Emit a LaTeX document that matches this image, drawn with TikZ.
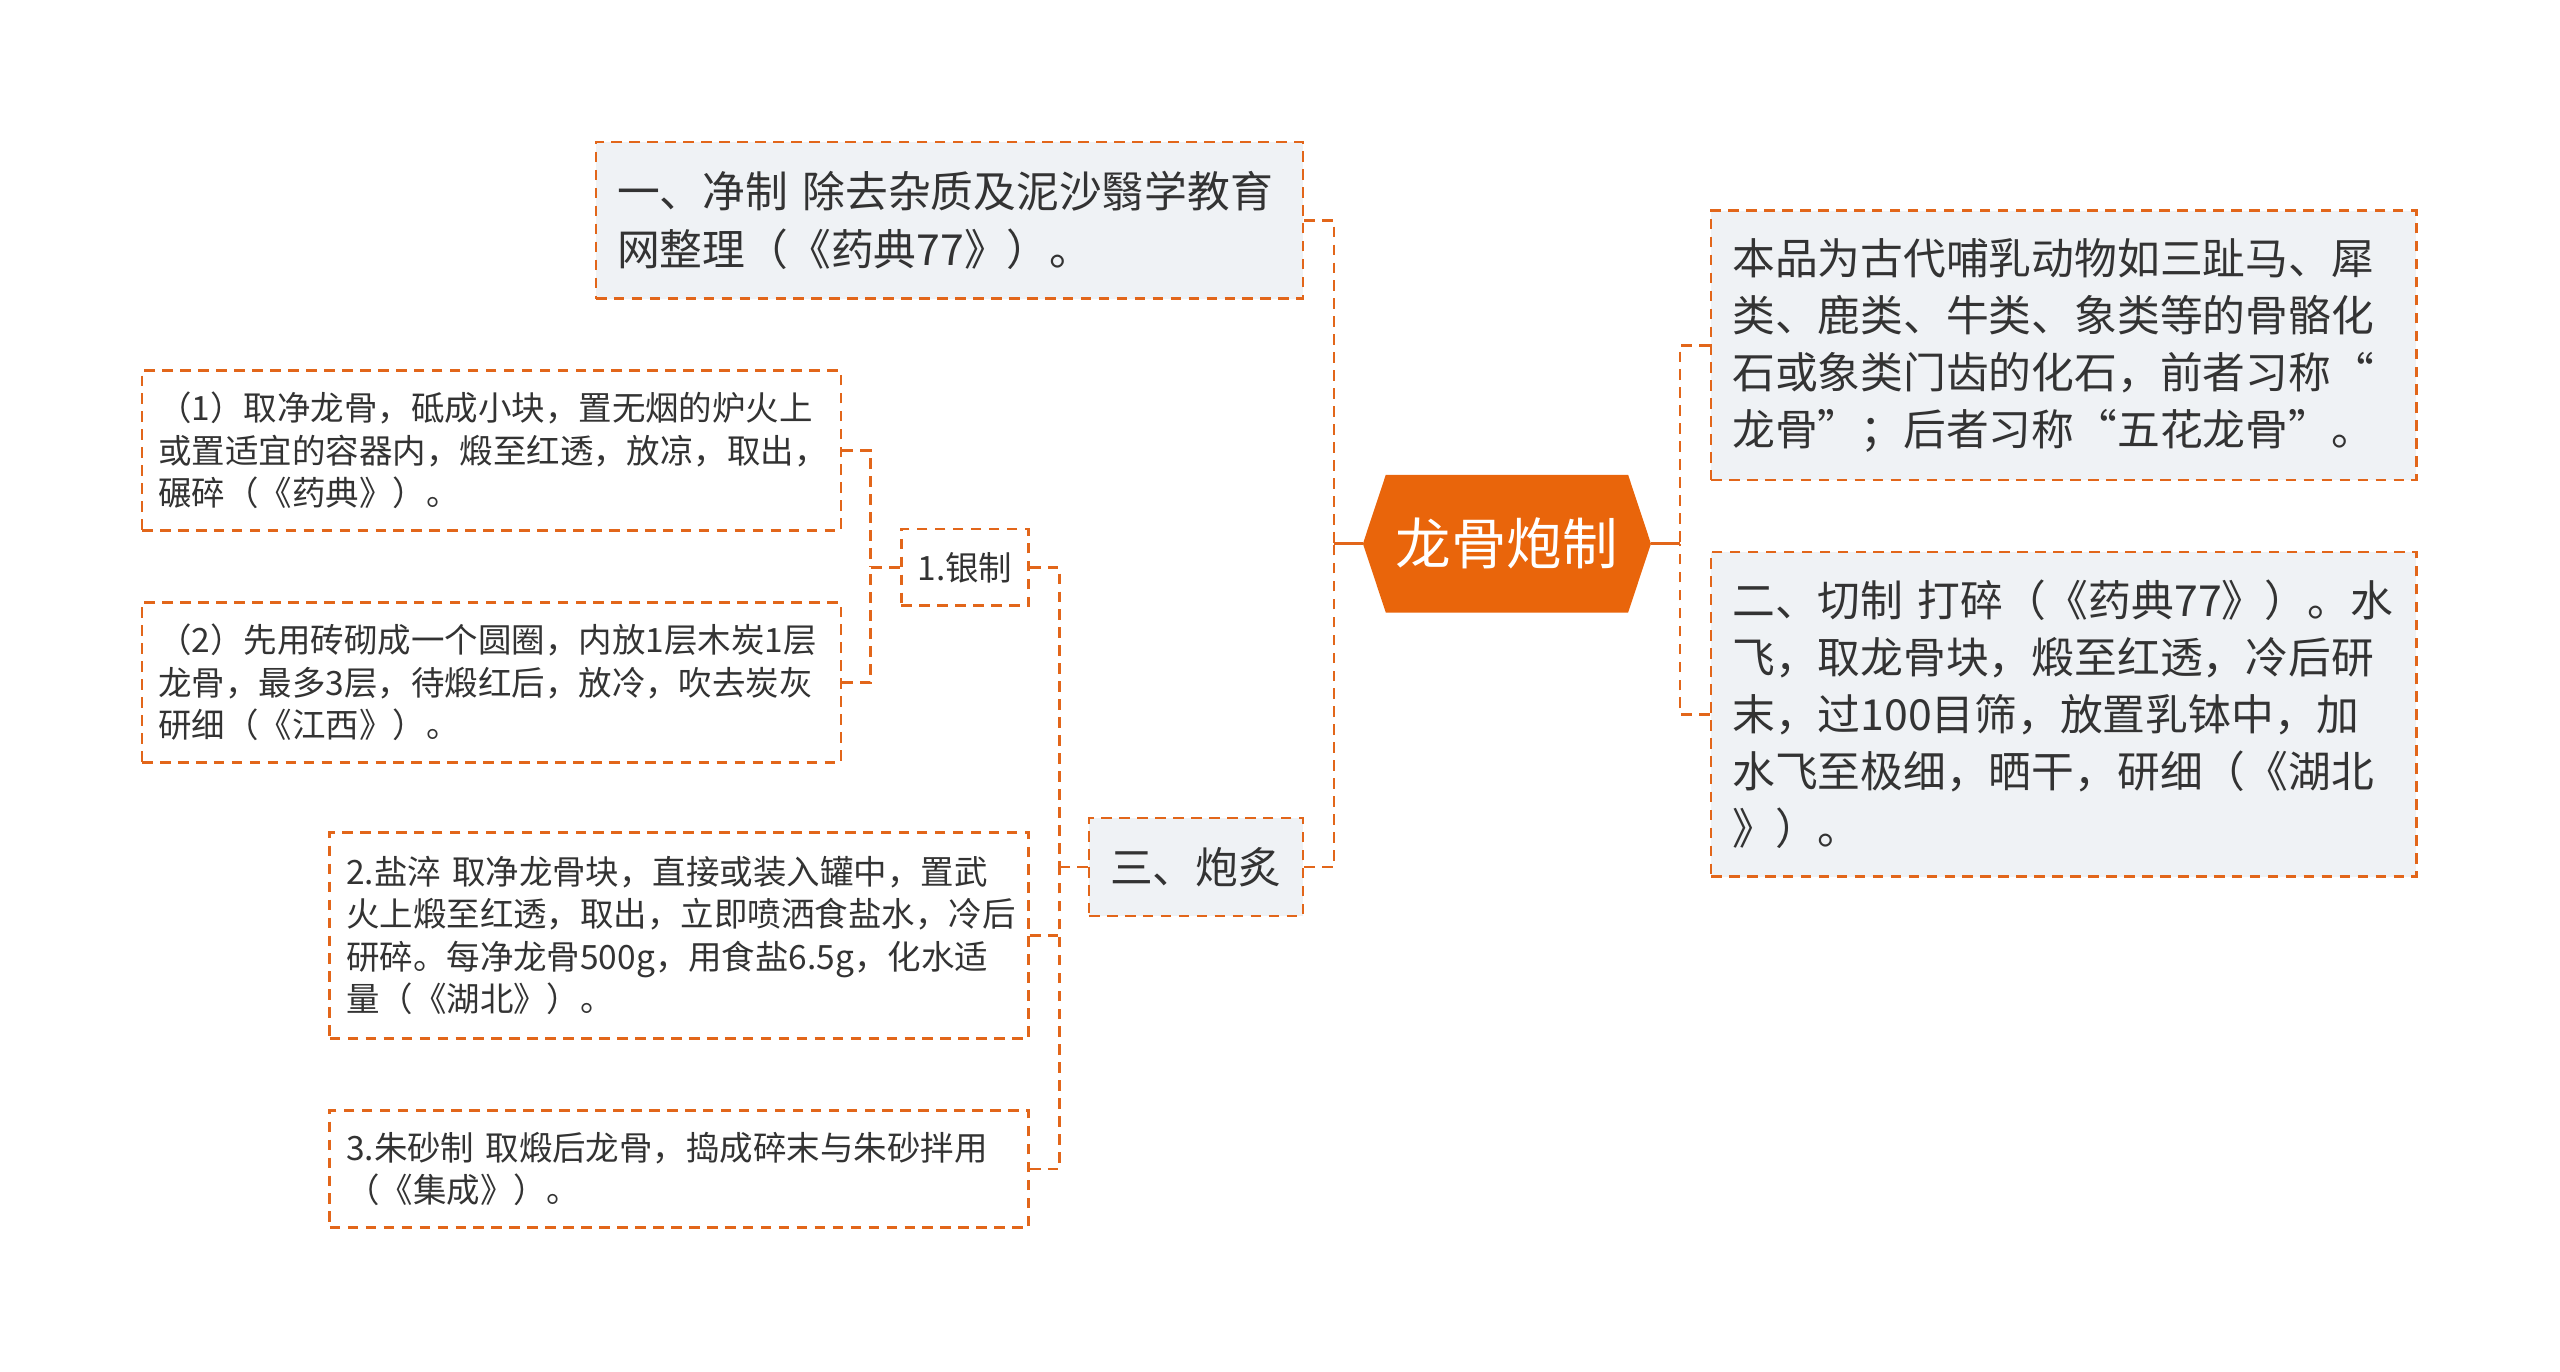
\documentclass[tikz,border=0pt]{standalone}
\usepackage{fontspec}
\setmainfont{Noto Sans CJK SC}
\usetikzlibrary{backgrounds}
\definecolor{lineor}{HTML}{E2661A}
\definecolor{hexor}{HTML}{E9650B}
\definecolor{boxgray}{HTML}{EFF2F5}
\definecolor{txt}{HTML}{333333}
\newcommand\myBigFont{\fontsize{26.2}{35}\selectfont}
\newcommand\mySmallFont{\fontsize{20.5}{26}\selectfont}
\newcommand\myCenterFont{\fontsize{34}{40}\selectfont}
\tikzset{
  conn/.style={draw=lineor, line width=1.6pt, dash pattern=on 6.5pt off 4.5pt},
  stub/.style={draw=lineor, line width=2pt},
  bigbox/.style={draw=lineor, fill=boxgray, line width=1.6pt, dash pattern=on 6.5pt off 4.5pt,
    inner xsep=13pt, inner ysep=0pt, align=left, text=txt, font=\myBigFont},
  smallbox/.style={draw=lineor, fill=white, line width=1.6pt, dash pattern=on 6.5pt off 4.5pt,
    inner xsep=10pt, inner ysep=0pt, align=left, text=txt, font=\mySmallFont},
}
\begin{document}
\begin{tikzpicture}[x=1pt,y=-1pt]
\useasboundingbox (0,0) rectangle (1568,840);

% centre
\node (c) at (923,333) [minimum width=176pt, minimum height=84pt, inner sep=0pt,
  text=white, font=\myCenterFont] {龙骨炮制};
\begin{scope}[on background layer]
\fill[white] (0,0) rectangle (1568,840);
\fill[hexor] (c.west) -- ([xshift=14pt]c.north west) -- ([xshift=-14pt]c.north east)
  -- (c.east) -- ([xshift=-14pt]c.south east) -- ([xshift=14pt]c.south west) -- cycle;
\end{scope}

% boxes
\node (b1) at (581.5,135) [bigbox, minimum width=433pt, minimum height=96pt, text width=407pt]
  {一、净制 除去杂质及泥沙翳学教育\\网整理（《药典77》）。};
\node (bA) at (1264,211.5) [bigbox, minimum width=432pt, minimum height=165pt, text width=406pt]
  {本品为古代哺乳动物如三趾马、犀\\类、鹿类、牛类、象类等的骨骼化\\石或象类门齿的化石，前者习称“\\龙骨”；后者习称“五花龙骨”。};
\node (b2) at (1264,437.5) [bigbox, minimum width=432pt, minimum height=199pt, text width=406pt]
  {二、切制 打碎（《药典77》）。水\\飞，取龙骨块，煅至红透，冷后研\\末，过100目筛，放置乳钵中，加\\水飞至极细，晒干，研细（《湖北\\》）。};
\node (b3) at (732.5,531) [bigbox, minimum width=131pt, minimum height=60pt, text width=105pt]
  {三、炮炙};

\node (s1) at (301,276) [smallbox, minimum width=428pt, minimum height=98pt, text width=408pt]
  {（1）取净龙骨，砥成小块，置无烟的炉火上\\或置适宜的容器内，煅至红透，放凉，取出，\\碾碎（《药典》）。};
\node (s2) at (301,418) [smallbox, minimum width=428pt, minimum height=98pt, text width=408pt]
  {（2）先用砖砌成一个圆圈，内放1层木炭1层\\龙骨，最多3层，待煅红后，放冷，吹去炭灰\\研细（《江西》）。};
\node (y1) at (591,347.5) [smallbox, minimum width=78pt, minimum height=47pt, text width=58pt]
  {1.银制};
\node (s3) at (416,573) [smallbox, minimum width=428pt, minimum height=126pt, text width=408pt]
  {2.盐淬 取净龙骨块，直接或装入罐中，置武\\火上煅至红透，取出，立即喷洒食盐水，冷后\\研碎。每净龙骨500g，用食盐6.5g，化水适\\量（《湖北》）。};
\node (s4) at (416,716) [smallbox, minimum width=428pt, minimum height=72pt, text width=408pt]
  {3.朱砂制 取煅后龙骨，捣成碎末与朱砂拌用\\（《集成》）。};

% junctions
\coordinate (jL) at (817,333);
\coordinate (jR) at (1029,333);
\coordinate (j3) at (649,531);
\coordinate (j1) at (533,347.5);

% connectors
\draw[stub] (c.west) -- (jL);
\draw[conn] (b1.east) -| (jL);
\draw[conn] (b3.east) -| (jL);
\draw[stub] (c.east) -- (jR);
\draw[conn] (bA.west) -| (jR);
\draw[conn] (b2.west) -| (jR);
\draw[conn] (b3.west) -- (j3);
\draw[conn] (y1.east) -| (j3);
\draw[conn] (s3.east) -| (j3);
\draw[conn] (s4.east) -| (j3);
\draw[conn] (y1.west) -- (j1);
\draw[conn] (s1.east) -| (j1);
\draw[conn] (s2.east) -| (j1);
\end{tikzpicture}
\end{document}
